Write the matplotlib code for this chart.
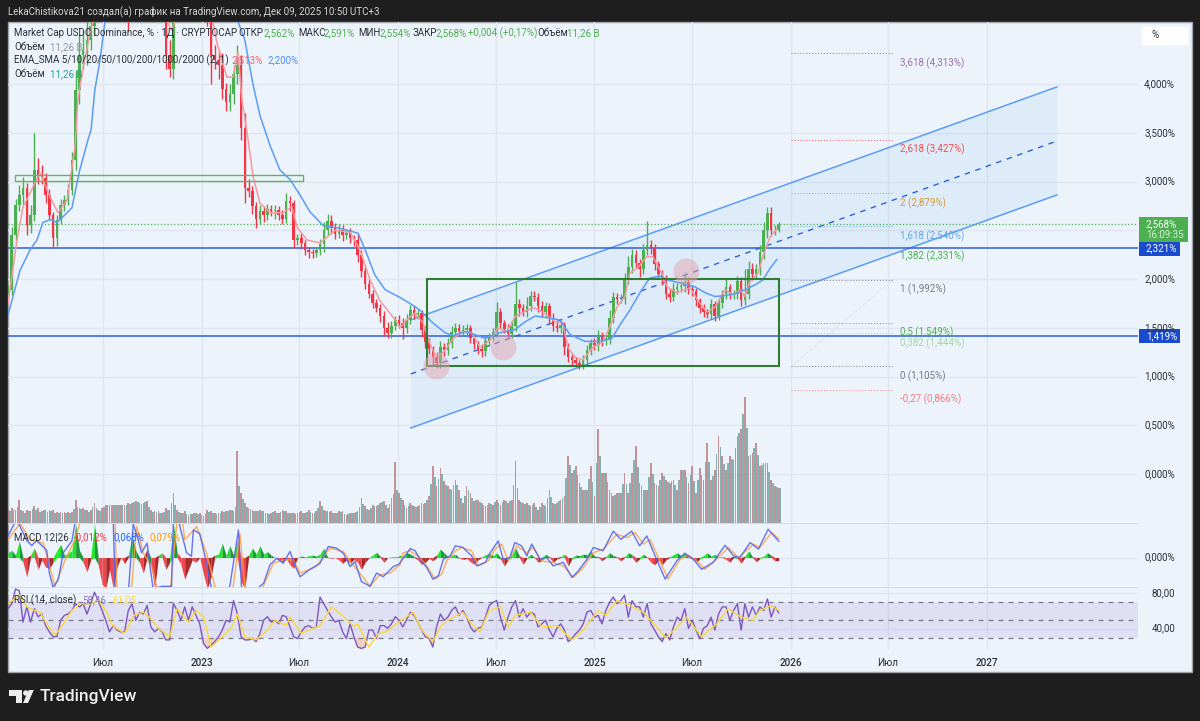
#!/usr/bin/env python3
#
# USDC dominance chart, TradingView style
#
import matplotlib
matplotlib.use('Agg')
import matplotlib.dates as mdates
import matplotlib.patches as patches
import matplotlib.pyplot as plt
import numpy as np

W, H = 1200, 721

# Weekly candles, percent of market cap (values above 4.6 leave the pane)
first_candle = '2022-01-05'
closes = [
    1.89, 2.45, 2.76, 2.86, 2.93, 2.55, 2.66, 3.12, 3.07, 3.04,
    2.86, 2.66, 2.42, 2.61, 2.76, 2.81, 2.91, 3.22, 3.94, 4.30,
    4.35, 4.45, 4.60, 5.0, 5.2, 5.6, 5.9, 6.1, 6.3, 6.0,
    5.4, 5.0, 4.9, 5.3, 5.7, 6.0, 6.2, 6.1, 5.8, 5.5,
    5.2, 5.0, 4.3, 4.15, 4.8, 5.1, 5.4, 5.6, 5.8, 5.7,
    5.5, 5.3, 5.0, 4.7, 4.3, 4.25, 4.2, 3.95, 3.82, 3.9,
    4.1, 4.2, 3.55, 2.93, 2.9, 2.75, 2.62, 2.7, 2.66, 2.72,
    2.7, 2.71, 2.66, 2.62, 2.8, 2.78, 2.4, 2.42, 2.37, 2.3,
    2.28, 2.27, 2.3, 2.36, 2.5, 2.6, 2.52, 2.46, 2.5, 2.45,
    2.47, 2.42, 2.4, 2.25, 2.08, 1.95, 1.85, 1.75, 1.7, 1.62,
    1.5, 1.45, 1.52, 1.58, 1.55, 1.5, 1.58, 1.68, 1.64, 1.65,
    1.48, 1.35, 1.28, 1.2, 1.14, 1.3, 1.27, 1.34, 1.46, 1.5,
    1.47, 1.48, 1.5, 1.4, 1.33, 1.28, 1.26, 1.36, 1.4, 1.46,
    1.66, 1.55, 1.49, 1.44, 1.52, 1.74, 1.7, 1.66, 1.72, 1.83,
    1.82, 1.72, 1.66, 1.72, 1.6, 1.52, 1.5, 1.53, 1.3, 1.2,
    1.17, 1.14, 1.12, 1.17, 1.27, 1.34, 1.32, 1.42, 1.37, 1.38,
    1.6, 1.82, 1.8, 1.8, 2.0, 2.12, 2.25, 2.16, 2.1, 2.3,
    2.35, 2.32, 2.15, 2.05, 2.0, 1.85, 1.82, 1.9, 1.92, 1.93,
    1.97, 1.9, 1.88, 1.78, 1.7, 1.66, 1.64, 1.74, 1.62, 1.75,
    1.85, 1.92, 1.84, 1.85, 1.98, 1.78, 1.85, 2.1, 2.05, 2.1,
    2.28, 2.5, 2.68, 2.5, 2.5, 2.568,
]
up_wicks = [
    .05, .08, .06, .1, .12, .05, .1, .38, .12, .1,
    .05, .06, .03, .05, .06, .05, .06, .08, .2, .2,
    .2, .2, .2, .2, .2, .2, .2, .2, .2, .2,
    .2, .2, .2, .2, .2, .2, .2, .2, .2, .2,
    .1, .1, .2, .15, .1, .1, .1, .1, .1, .1,
    .1, .1, .1, .15, .2, .1, .1, .12, .06, .1,
    .1, .2, .1, .15, .1, .05, .04, .06, .05, .05,
    .04, .05, .04, .05, .08, .05, .03, .04, .05, .03,
    .03, .03, .03, .05, .08, .07, .06, .05, .06, .05,
    .04, .05, .03, .06, .05, .04, .05, .04, .05, .04,
    .05, .06, .05, .04, .05, .05, .06, .05, .05, .04,
    .03, .04, .04, .03, .05, .06, .04, .05, .06, .05,
    .04, .05, .04, .03, .04, .03, .05, .04, .05, .04,
    .1, .04, .03, .05, .05, .23, .05, .04, .1, .05,
    .05, .04, .05, .04, .03, .05, .04, .05, .03, .04,
    .03, .03, .03, .05, .05, .04, .05, .06, .04, .05,
    .08, .05, .04, .05, .06, .12, .06, .05, .05, .06,
    .25, .05, .04, .03, .04, .04, .05, .06, .04, .05,
    .1, .05, .04, .03, .03, .04, .03, .05, .03, .04,
    .04, .08, .03, .04, .05, .04, .25, .08, .06, .05,
    .07, .08, .06, .06, .05, .02,
]
dn_wicks = [
    .04, .05, .08, .06, .1, .1, .08, .06, .1, .07,
    .08, .05, .1, .08, .05, .06, .05, .05, .1, .15,
    .15, .15, .1, .1, .1, .1, .1, .1, .1, .1,
    .1, .1, .35, .1, .1, .1, .1, .1, .1, .1,
    .1, .1, .15, .08, .1, .1, .1, .1, .1, .1,
    .1, .1, .1, .1, .3, .1, .15, .1, .1, .1,
    .1, .1, .12, .15, .06, .08, .1, .06, .08, .05,
    .05, .08, .05, .06, .05, .08, .08, .05, .06, .05,
    .06, .05, .04, .05, .08, .05, .06, .05, .04, .06,
    .04, .05, .06, .08, .06, .05, .04, .05, .04, .06,
    .08, .05, .05, .04, .05, .12, .05, .04, .05, .05,
    .07, .06, .05, .08, .05, .05, .06, .05, .05, .04,
    .05, .04, .05, .06, .05, .05, .06, .05, .05, .04,
    .05, .06, .04, .05, .05, .05, .08, .04, .05, .05,
    .05, .06, .05, .06, .05, .05, .04, .05, .08, .05,
    .05, .04, .04, .04, .05, .05, .05, .06, .06, .05,
    .05, .05, .06, .05, .06, .05, .06, .05, .08, .05,
    .05, .06, .06, .05, .06, .05, .06, .05, .05, .05,
    .06, .05, .05, .06, .05, .05, .04, .05, .05, .04,
    .05, .05, .05, .05, .05, .06, .05, .05, .06, .04,
    .06, .07, .08, .06, .05, .014,
]

# Moving averages as (candle number, value) pairs
ema_idx = [
    0, 2.4, 4, 6.6, 8.5, 11.2, 13.3, 15.7, 17.8, 18.6, 20, 21.8, 22.6, 26, 40,
    41, 43.5, 45, 50, 54, 54.5, 55.6, 58.2, 59.8, 61.2, 62.2, 63.6, 65.2, 67,
    69.7, 73.1, 75.5, 76.9, 79.5, 83, 87, 91, 93.6, 96.3, 98.9, 103, 104.3,
    106, 108.2, 110.4, 112.2, 113.6, 115.7, 118.4, 121, 123.4, 125.5, 128.2,
    130.3, 132.7, 134.8, 137, 139.6, 142.3, 145.5, 147.6, 148.9, 150.8, 152.9,
    155.6, 158.2, 160.1, 162, 164.1, 165.4, 167.6, 169.9, 171.5, 173.9, 175.3,
    177.9, 181.4, 183.5, 185.9, 188, 190.7, 192.8, 194.7, 196, 197.3, 199.5,
    200.8, 202.7, 204.5,
]
ema_vals = [
    1.75, 2.40, 2.74, 2.94, 3.09, 2.84, 2.68, 2.81, 3.35, 3.84, 4.17, 4.52, 4.64, 5.2, 5.4,
    4.75, 4.55, 4.7, 5.1, 4.8, 4.64, 4.42, 4.07, 4.07, 4.32, 3.84, 3.5, 3.05, 2.78,
    2.68, 2.68, 2.74, 2.53, 2.40, 2.37, 2.50, 2.48, 2.30, 1.99, 1.78, 1.58, 1.50,
    1.58, 1.65, 1.55, 1.34, 1.22, 1.24, 1.39, 1.46, 1.45, 1.30, 1.37,
    1.50, 1.46, 1.61, 1.66, 1.71, 1.66, 1.56, 1.55, 1.30, 1.20, 1.17,
    1.30, 1.35, 1.51, 1.71, 1.82, 2.06, 2.12, 2.23, 2.23, 2.06, 1.92,
    1.86, 1.91, 1.78, 1.66, 1.71, 1.89, 1.84, 1.89, 1.82, 1.97, 2.06,
    2.23, 2.43, 2.513,
]
sma_idx = [
    0, 3.2, 5.9, 7.7, 9.3, 11.2, 13, 15.2, 17, 19.1, 21.3, 22.1, 23.1, 24.5, 25.8,
    30, 40, 50, 58, 61.2, 63, 65.2, 67, 69.7, 72.3, 75, 77.7, 80.3, 83.8, 88.3,
    93.1, 95, 97.6, 100.3, 104.3, 106.9, 109.6, 113, 116.2, 118.4, 121.5, 124.2,
    126.9, 130.9, 134.8, 137.5, 140.2, 144.1, 146.8, 149.5, 153.5, 157.4, 160.6,
    162.8, 165.4, 168.1, 170.7, 173.4, 175.5, 178.7, 182.7, 185.4, 188, 190.7,
    193.4, 196, 198.7, 200.8, 202.7, 204.5,
]
sma_vals = [
    1.63, 2.09, 2.30, 2.40, 2.58, 2.61, 2.58, 2.66, 2.73, 3.12, 3.43, 3.53, 3.94, 4.25, 4.64,
    5.0, 5.3, 5.3, 5.0, 4.64, 4.45, 3.99, 3.68, 3.37, 3.12, 3.02, 2.86, 2.69, 2.55, 2.52,
    2.47, 2.30, 2.04, 1.89, 1.81, 1.75, 1.68, 1.55, 1.45, 1.42, 1.46, 1.43,
    1.39, 1.45, 1.48, 1.56, 1.62, 1.60, 1.58, 1.43, 1.36, 1.36, 1.39,
    1.53, 1.68, 1.86, 2.01, 2.03, 1.99, 1.96, 1.92, 1.86, 1.82, 1.83,
    1.85, 1.89, 1.94, 1.99, 2.11, 2.20,
]

# Volume overlay, billions
vol_a = [
    4.3, 4.8, 4.3, 7.5, 3.7, 4.3, 3.7, 5.4, 4.8, 3.7,
    4.3, 4.3, 4.3, 3.4, 3.4, 3.4, 3.4, 3.4, 7.5, 4.8,
    4.8, 4.3, 4.1, 6.4, 4.3, 4.8, 5.9, 5.9, 5.9, 5.9,
    5.9, 5.9, 6.4, 6.4, 7.0, 6.4, 6.4, 7.0, 4.3, 3.7,
    3.7, 3.2, 4.8, 4.3, 9.6, 4.3, 3.2, 3.7, 2.7, 3.0,
    3.2, 3.2, 2.1, 4.3, 3.7, 3.2, 3.2, 3.7, 3.7, 4.3,
    3.7, 23.0, 9.6, 6.4, 4.8, 4.3, 3.7, 4.3, 3.7, 3.2,
    3.2, 3.7, 3.2, 4.3, 3.7, 3.2, 3.2, 3.2, 3.7, 3.2,
    4.3, 3.2, 3.7, 7.0, 4.3, 3.7, 3.7, 3.2, 3.7, 3.7,
    2.7, 3.2, 3.2, 3.7, 8.0, 5.4, 4.3, 5.9, 5.4, 6.4,
    7.0, 4.8, 8.0, 19.5, 9.6, 7.5, 4.8, 6.4, 5.4, 5.4,
    6.4, 6.4, 8.6, 18.2, 11.8, 17.7, 13.4, 11.8, 10.7, 13.9,
    10.7, 6.4, 11.8, 9.6, 7.0, 7.5, 6.4, 5.4, 6.4, 5.9,
    7.5, 5.9, 7.5, 6.4, 7.5, 19.8, 7.5, 6.4, 6.4, 5.4,
    6.4, 4.3, 6.4, 5.4, 10.7, 6.4, 6.4, 7.5, 8.6, 21.4,
    16.1, 18.2, 12.8, 10.7, 10.7, 18.2, 8.6, 30.0, 16.1, 16.1,
    10.7, 8.6, 9.6, 9.6, 16.1, 9.6, 16.1, 24.6, 12.8, 10.7,
    10.7, 19.3, 12.8, 11.8, 16.1, 13.9, 12.8, 13.9, 10.7, 17.1,
    17.1, 12.8, 18.2, 9.6, 17.7, 13.9, 25.7, 13.9, 17.1, 27.8,
    21.4, 17.1, 21.4, 20.3, 27.8, 30.0, 40.4, 21.4, 22.5, 25.7,
    18.2, 19.3, 19.3, 13.9, 11.8, 11.26,
]
vol_b = [
    3.8, 4.2, 5.1, 4.0, 3.2, 3.9, 4.4, 4.2, 3.6, 4.1,
    3.6, 3.8, 3.1, 3.3, 3.3, 3.3, 3.3, 4.6, 5.2, 4.4,
    4.1, 3.6, 5.0, 4.9, 3.9, 5.2, 5.7, 5.7, 5.7, 5.7,
    5.7, 5.8, 6.2, 6.6, 6.6, 6.2, 6.7, 5.2, 3.6, 3.4,
    3.1, 3.6, 4.2, 6.3, 5.8, 3.6, 3.3, 2.9, 2.8, 3.1,
    3.0, 2.5, 2.8, 3.6, 3.3, 3.0, 3.3, 3.5, 3.9, 4.0,
    5.2, 11.8, 7.8, 5.2, 4.4, 3.8, 3.9, 3.8, 3.3, 3.0,
    3.4, 3.3, 3.6, 3.9, 3.3, 3.1, 3.0, 3.4, 3.3, 3.6,
    3.6, 3.3, 4.8, 5.4, 3.9, 3.5, 3.3, 3.3, 3.6, 3.0,
    2.9, 3.1, 3.4, 5.2, 6.2, 4.6, 4.8, 5.5, 5.7, 6.6,
    5.6, 6.0, 9.2, 10.4, 8.1, 5.8, 5.3, 5.7, 5.2, 5.8,
    6.2, 7.4, 12.6, 14.8, 14.2, 15.6, 12.2, 11.0, 12.0, 12.2,
    8.1, 8.7, 10.6, 8.0, 7.2, 6.8, 5.7, 5.8, 6.1, 6.6,
    6.5, 6.6, 6.9, 6.9, 12.3, 11.2, 6.8, 6.2, 5.8, 5.7,
    5.2, 5.2, 5.8, 8.0, 8.3, 6.2, 6.9, 7.9, 14.4, 18.5,
    17.0, 15.2, 11.6, 10.6, 14.2, 13.1, 19.1, 21.4, 16.0, 13.2,
    9.5, 9.0, 9.5, 12.6, 12.5, 12.7, 20.2, 18.0, 11.7, 10.7,
    14.8, 15.6, 12.2, 13.8, 15.0, 13.2, 13.3, 12.2, 13.8, 16.8,
    14.7, 15.3, 13.5, 13.7, 15.5, 19.4, 19.5, 15.1, 22.2, 24.2,
    19.0, 19.1, 20.6, 24.0, 28.9, 35.0, 30.5, 21.9, 24.0, 21.7,
    18.7, 19.1, 16.3, 12.7, 11.4, 11.26,
]

# MACD
macd_idx = [
    0, 2.3, 5, 6.3, 7.6, 9, 10.3, 11, 12, 13.4, 14.7, 17, 18, 21, 24.5, 28, 28.5,
    29, 32, 33.3, 34.7, 35.5, 37, 37.8, 38.6, 41, 43.5, 44, 45, 45.7, 47.5, 48.8,
    49.3, 51, 52.4, 54, 56.4, 59, 61.3, 62.1, 64.4, 67, 68, 69.7, 71.5, 73.2, 75,
    76.8, 77.7, 80.3, 83, 85.2, 87.4, 89.2, 91, 92.3, 94, 96.3, 98, 99.8, 102.5, 104,
    107, 108.3, 109.6, 111.4, 113, 114.5, 115.8, 117.6, 119, 121, 123.3, 124.7, 127,
    128, 130.4, 131.7, 133.5, 134.8, 136.6, 138, 139.3, 141.5, 143.3, 145, 147.7,
    150, 151.7, 154, 155.7, 158.3, 161, 163, 165.9, 168, 169.9, 172.5, 174.8, 177.9,
    180, 182.3, 184.5, 187.6, 190.7, 193, 194.7, 197.4, 199.6, 202.2, 205,
]
macd_vals = [
    .09, .16, .07, .05, .07, .05, .03, -.065, -.125, -.09, .02, .07, .16, .25, .28, .15, -.13,
    -.13, -.15, .14, .07, .02, .06, -.04, -.13, -.12, -.12, .16, .25, .13, .02, .005,
    .115, .10, .005, -.12, -.2, -.12, .115, -.12, -.2, -.12, -.107, -.03, -.003, -.024, .025,
    -.05, -.08, -.05, -.024, .046, .039, .018, -.0375, -.017, -.1, -.12, -.065, -.08, -.0375, -.028,
    .0375, .028, -.007, -.042, -.09, -.076, -.007, .007, .049, .042, .007, -.035, -.02,
    .014, .069, -.007, 0, .0625, .049, .007, .056, -.007, 0, -.035, -.02,
    -.083, -.056, -.007, .042, .028, .11, .076, .11, .049, .09, -.007, -.09, -.014,
    .018, -.007, -.049, -.02, .051, .007, 0, .0625, .035, .118, .068,
]
signal_idx = [
    0, 3.2, 5.9, 9.4, 12.5, 15.2, 17.8, 19.1, 22, 26, 28.5, 28.9, 32, 32.9, 34.2, 36,
    38.2, 39.5, 43, 44.9, 46, 47, 50.2, 52.8, 55, 58, 59.9, 61.7, 63, 65, 67.9, 70.6,
    73.2, 75.9, 77.7, 82, 85.6, 89.2, 91.4, 93.6, 96.3, 98.9, 101.6, 104.3,
    105.1, 106.9, 109.6, 111.4, 113.6, 115.3, 116.7, 119, 120.7, 123.3, 125.1, 127.8,
    129.5, 131.3, 133.1, 135.3, 138, 139.7, 141.9, 144.6, 147.7, 150.4, 153, 155.7,
    158.3, 162, 164.6, 166.8, 169, 170.8, 173.4, 175.6, 178.8, 181, 183.6, 185.4,
    188.5, 191.6, 194.3, 198.3, 200, 203.1, 205,
]
signal_vals = [
    .074, .143, .074, .06, -.12, -.01, .074, .143, .24, .26, .143, -.12, -.18, -.12, .13, .018,
    -.0375, -.12, -.16, .143, .2, .074, .129, .018, -.12, -.2, -.12, .1, -.12, -.2, -.12, -.024,
    -.01, -.01, -.065, -.0375, .039, .025, -.024, -.065, -.12, -.072, -.065, -.03,
    .02, .028, 0, -.035, -.09, -.07, -.014, .028, .042, .028, -.035, -.014,
    .035, .056, -.014, .049, .02, .042, -.014, -.02, -.035, -.083, -.042, .02,
    .035, .097, .083, .104, .056, .076, -.014, -.09, -.007, .01, -.02, -.049,
    -.007, .042, 0, .056, .042, .104, .079,
]
hist_vals = [
    .02, .03, .01, .07, -.02, -.08, .01, .04, -.05, -.01,
    -.04, -.045, -.02, .03, .055, .01, .018, .03, .14, .03,
    -.02, -.06, -.01, .14, -.03, -.11, -.13, -.05, -.13, -.04,
    0, -.025, .01, .09, .03, -.02, -.065, .035, -.03, -.13,
    .01, .02, -.05, -.02, .14, .02, -.03, -.09, -.05, -.01,
    -.02, 0, -.07, -.13, -.08, .01, .015, .06, .01, .05,
    .01, .07, -.1, -.13, .01, .04, .015, .05, .015, .025,
    .01, 0, -.01, -.018, -.005, -.03, -.045, 0, .007, .002,
    .008, .01, .006, .015, .04, .002, -.003, 0, -.01, -.024,
    -.01, -.024, -.008, -.02, -.05, -.02, -.002, .01, .022, .005,
    -.02, 0, .003, .004, .005, .005, .02, .015, .005, -.01,
    -.028, -.02, -.004, -.014, .01, .035, .02, .005, .01, .014,
    -.002, -.008, -.004, -.018, -.028, -.01, .002, .012, .017, .008,
    .02, -.006, -.035, -.01, .01, .04, .008, -.028, -.004, .014,
    .002, -.02, -.012, .014, .003, -.02, -.006, .004, .014, -.035,
    -.006, .01, .008, .014, .012, .028, .006, .004, -.014, .004,
    .02, .008, .003, -.014, .003, .02, .012, -.02, -.006, .014,
    .002, -.02, -.03, -.012, -.03, -.01, .003, .012, .02, .008,
    .02, .002, -.006, -.02, -.006, .008, .02, .006, .014, .002,
    .004, -.008, -.02, .006, -.004, -.024, .006, .028, .004, -.018,
    -.004, .006, .02, .01, -.014, -.012,
]

# RSI
rsi_vals = [
    63, 68.5, 85, 83, 48, 65, 48, 63, 54, 57,
    44, 37, 31.5, 31.5, 50, 55.5, 57, 61, 68.5, 65,
    68.5, 57, 68.5, 81.5, 72, 61, 50, 37, 44, 39,
    37, 37, 61, 68.5, 50, 59, 57, 66.5, 42.5, 37,
    41, 37, 28, 28, 68.5, 61, 50, 65, 50, 65,
    55.5, 46, 24, 18.5, 22, 26, 31.5, 39, 50, 48,
    72, 57, 31.5, 28, 28, 29.5, 26, 35, 50, 54,
    48, 50, 46, 55.5, 54, 42.5, 31.5, 29.5, 37, 42.5,
    44, 41, 42.5, 76, 68.5, 61, 54, 48, 50, 37,
    29.5, 46, 31.5, 20, 18.5, 20, 39, 39, 29.5, 44,
    44, 41, 46, 54, 50, 42.5, 50, 59, 55.5, 48,
    39, 31.5, 29.5, 20, 42.5, 57, 50, 53.5, 61, 65,
    55.5, 61, 53.5, 42.5, 37, 41, 42.5, 53.5, 66.5, 70,
    72, 53.5, 39, 53.5, 65, 72, 53.5, 63, 53.5, 59,
    57, 42.5, 46, 50, 39, 31.5, 41, 46, 39, 26,
    29.5, 35, 39, 46, 59, 61, 53.5, 55.5, 46, 61,
    70, 76, 68.5, 72, 78, 53.5, 72, 65, 65, 53.5,
    68.5, 46, 39, 31.5, 26, 35, 28, 42.5, 53.5, 50,
    63, 41, 50, 39, 29.5, 41, 44, 53.5, 39, 57,
    65, 65, 50, 61, 68.5, 39, 68.5, 53.5, 65, 55.5,
    65, 61, 74, 53.5, 65, 58.46,
]
rsi_ma_idx = [
    0, 3, 5, 7, 8.5, 10, 12.5, 15, 17, 19, 22, 24, 26, 28, 31, 33.5, 36, 38, 40, 43, 45,
    48, 50, 52, 54, 57, 59.5, 61, 63, 66, 69, 71, 74, 75, 78, 83, 86, 88.5, 92, 93, 96,
    98.5, 100.5, 104, 107.8, 110, 113, 115, 117, 121, 123.3, 125.5, 128, 131, 133, 135,
    139, 142, 146, 150, 153, 157, 159, 162, 165.5, 169, 172.5, 175, 180.5, 184.5, 188.5,
    191.5, 195, 198, 200, 203, 205,
]
rsi_ma_vals = [
    68.5, 78, 65, 61, 59, 48, 33, 48, 61, 68.5, 68.5, 72, 61, 43, 35.5, 55.5, 59, 52, 41, 31.5, 63,
    48, 61, 54, 20, 31.5, 42.5, 57, 31.5, 28, 39, 50, 44, 54, 35.5, 44, 65, 57, 43, 46, 20,
    35, 37, 48, 59, 39, 26, 42.5, 50, 59, 46, 37, 61, 65, 42.5, 55.5,
    59, 42.5, 44, 28, 39, 61, 55.5, 72, 66.5, 59, 42.5, 30, 53.5, 31.5, 46,
    63, 53.5, 50, 61, 66.5, 61.05,
]

# Drawings
hlines_blue = [2.321, 1.419]
last_price = 2.568
channel_start = '2024-01-25'
channel_end = '2027-05-12'
channel_upper = [1.58, 3.97]
channel_mid = [1.026, 3.415]
channel_lower = [0.472, 2.862]
box_start, box_end = '2024-02-24', '2025-12-10'
box_low, box_high = 1.108, 2.0
zone_start, zone_end = '2022-01-18', '2023-07-08'
zone_low, zone_high = 3.01, 3.07
circle_dates = ['2024-03-12', '2024-07-14', '2025-06-21']
circle_vals = [1.108, 1.30, 2.08]

fib_start, fib_end = '2026-01-02', '2026-07-11'
fib_vals = [4.313, 3.427, 2.879, 2.540, 2.331, 1.992, 1.549, 1.444, 1.105, 0.866]
fib_labels = ['3,618 (4,313%)', '2,618 (3,427%)', '2 (2,879%)', '1,618 (2,540%)',
              '1,382 (2,331%)', '1 (1,992%)', '0,5 (1,549%)', '0,382 (1,444%)',
              '0 (1,105%)', '-0,27 (0,866%)']
fib_colors = ['#9c6fa8', '#f0504f', '#d59a3c', '#64a6e0', '#4caf50', '#787b86',
              '#4caf50', '#a5d6a7', '#787b86', '#f77c80']

# Axis labels
price_ticks = [4, 3.5, 3, 2, 1.5, 1, 0.5, 0]
price_labels = ['4,000%', '3,500%', '3,000%', '2,000%', '1,500%', '1,000%', '0,500%', '0,000%']
time_ticks = ['2022-07-01', '2023-01-01', '2023-07-01', '2024-01-01', '2024-07-01',
              '2025-01-01', '2025-07-01', '2026-01-01', '2026-07-01', '2027-01-01']
time_labels = ['Июл', '2023', 'Июл', '2024', 'Июл', '2025', 'Июл', '2026', 'Июл', '2027']

plt.rcParams['font.family'] = ['Roboto', 'Noto Sans', 'DejaVu Sans']

DARK = '#1e1e1e'
PANE = '#edf3fb'
GRID = '#dfe6ef'
TEXT = '#2a2e39'
GREEN = '#4caf50'
RED = '#f23645'
BLUE = '#5b9cf6'
ROYAL = '#2e5fd8'

fig = plt.figure(figsize=(W / 100, H / 100), dpi=100, facecolor=DARK)


def pane(top, bottom, left=8, right=1138):
    ax = fig.add_axes([left / W, 1 - bottom / H, (right - left) / W, (bottom - top) / H])
    ax.set_facecolor('none')
    for s in ax.spines.values():
        s.set_visible(False)
    ax.tick_params(left=False, bottom=False, labelleft=False, labelbottom=False)
    ax.set_axisbelow(True)
    return ax


def label(x, y, s, color=TEXT, size=7.0, **kw):
    kw.setdefault('va', 'center')
    return fig.text(x / W, 1 - y / H, s, color=color, fontsize=size, zorder=6, **kw)


def box(x0, y0, x1, y1, color, **kw):
    r = patches.Rectangle((x0 / W, 1 - y1 / H), (x1 - x0) / W, (y1 - y0) / H,
                          transform=fig.transFigure, facecolor=color, **kw)
    fig.add_artist(r)
    return r


box(8, 22, 1192, 672, PANE, edgecolor='#a0a4ab', lw=1, zorder=-2)

ax = pane(22, 523)
ax_vol = ax.twinx()
ax.tick_params(left=False, labelleft=False)
ax_vol.set_facecolor('none')
for s in ax_vol.spines.values():
    s.set_visible(False)
ax_vol.tick_params(right=False, labelright=False)
ax_macd = pane(523, 587.5)
ax_rsi = pane(587.5, 650)

# Shared time axis
t0 = mdates.datestr2num(first_candle)
n = len(closes)
t = t0 + 7 * np.arange(n)
tick_nums = mdates.datestr2num(time_ticks)
xlim = mdates.datestr2num(['2022-01-05', '2027-10-10'])
for a in (ax, ax_macd, ax_rsi):
    a.set_xlim(*xlim)
    a.set_xticks(tick_nums)
    a.grid(True, axis='x', color=GRID, lw=1)
ax_vol.set_xlim(*xlim)


def at(idx):
    return t0 + 7 * np.asarray(idx, dtype=float)


# Price pane
ax.set_ylim(-0.5026, 4.636)
ax.set_yticks(np.arange(0, 4.5, 0.5))
ax.grid(True, axis='y', color=GRID, lw=1)
ax_vol.set_ylim(0, 160.3)

ax_vol.bar(t, vol_a, width=3.1, color='#b2696e', alpha=0.7, lw=0)
ax_vol.bar(t + 3.5, vol_b, width=3.1, color='#5f9c9a', alpha=0.75, lw=0)

cx = mdates.datestr2num([channel_start, channel_end])
ax.fill_between(cx, channel_lower, channel_upper, color='#2196f3', alpha=0.07, lw=0, zorder=1)
ax.plot(cx, channel_upper, color=BLUE, lw=1.1, zorder=2)
ax.plot(cx, channel_lower, color=BLUE, lw=1.1, zorder=2)
ax.plot(cx, channel_mid, color=ROYAL, lw=1, ls=(0, (4, 4)), zorder=2)

ax.axhline(last_price, color=GREEN, lw=0.9, ls=':', zorder=2)
for v in hlines_blue:
    ax.axhline(v, color=ROYAL, lw=1.1, zorder=2)

# Fibonacci levels
fx = mdates.datestr2num([fib_start, fib_end])
ax.plot(fx, [fib_vals[8], fib_vals[5]], color='#dfe5ec', lw=0.8, ls='--', zorder=1)
for v, s, c in zip(fib_vals, fib_labels, fib_colors):
    ax.plot(fx, [v, v], color=c, lw=0.8, ls=':', alpha=0.8, zorder=2)
    ax.annotate(s, (fx[1], v), xytext=(7, -4), textcoords='offset pixels', color=c,
                fontsize=7.0, va='top', ha='left', zorder=3)

# Candles
closes_a = np.array(closes)
opens = np.r_[closes_a[0], closes_a[:-1]]
tops = np.maximum(opens, closes_a)
bottoms = np.minimum(opens, closes_a)
colors = np.where(closes_a >= opens, GREEN, RED)
ax.vlines(t, bottoms - np.array(dn_wicks), tops + np.array(up_wicks), colors=colors, lw=1, zorder=4)
ax.bar(t, tops - bottoms, bottom=bottoms, width=4.8, color=colors, lw=0, zorder=4)

ax.plot(at(ema_idx), ema_vals, color='#f59aa0', lw=1.1, zorder=5)
ax.plot(at(sma_idx), sma_vals, color=BLUE, lw=1.1, zorder=5)

zone_x = mdates.datestr2num([zone_start, zone_end])
ax.add_patch(patches.Rectangle((zone_x[0], zone_low), zone_x[1] - zone_x[0], zone_high - zone_low,
                               fill=False, edgecolor='#5cb860', lw=1, zorder=6))
box_x = mdates.datestr2num([box_start, box_end])
ax.add_patch(patches.Rectangle((box_x[0], box_low), box_x[1] - box_x[0], box_high - box_low,
                               fill=False, edgecolor='#2e7d32', lw=1.5, zorder=6))
ax.scatter(mdates.datestr2num(circle_dates), circle_vals, s=350, color='#e3a3b0', alpha=0.5, lw=0, zorder=7)

# MACD pane
ax_macd.set_ylim(-0.125, 0.144)
ax_macd.set_yticks([0])
ax_macd.grid(True, axis='y', color=GRID, lw=1)
h = np.array(hist_vals)
for i in range(len(h) - 1):
    x2 = t[i:i + 2]
    y2 = h[i:i + 2]
    up = abs(y2[1]) >= abs(y2[0])
    if y2.mean() >= 0:
        col = '#22e52c' if up else '#1f9a3a'
    else:
        col = '#f0474f' if up else '#a82a2a'
    ax_macd.fill_between(x2, 0, np.maximum(y2, 0), color=col, lw=0, zorder=2)
    ax_macd.fill_between(x2, 0, np.minimum(y2, 0), color=col, lw=0, zorder=2)
ax_macd.plot(at(signal_idx), signal_vals, color='#ff9f40', lw=1, alpha=0.85, zorder=3)
ax_macd.plot(at(macd_idx), macd_vals, color='#5566ee', lw=1, alpha=0.9, zorder=4)

# RSI pane
ax_rsi.set_ylim(16.7, 86.7)
ax_rsi.set_yticks([80, 40])
ax_rsi.grid(True, axis='y', color=GRID, lw=1)
ax_rsi.axhspan(30, 70, color='#7e57c2', alpha=0.12, lw=0)
for v in (70, 50, 30):
    ax_rsi.axhline(v, color='#787b86', lw=0.9, ls=(0, (4, 4)))
rsi_a = np.array(rsi_vals, dtype=float)
rsi_t = at(np.arange(len(rsi_a)))
ax_rsi.fill_between(rsi_t, rsi_a, 30, where=rsi_a < 30, interpolate=True, color='#f4a070', alpha=0.4, lw=0)
ax_rsi.plot(rsi_t, rsi_a, color='#7e57c2', lw=1, zorder=3)
ax_rsi.plot(at(rsi_ma_idx), rsi_ma_vals, color='#fdd835', lw=1, zorder=4)
ax_rsi.set_xticklabels(time_labels)
ax_rsi.tick_params(labelbottom=True, pad=2.5, labelsize=7.2, labelcolor=TEXT)
for lab, s in zip(ax_rsi.get_xticklabels(), time_labels):
    if s != 'Июл':
        lab.set_fontweight('medium')

# Pane separators
for y in (523, 587.5):
    box(8, y - 0.5, 1138, y + 0.5, '#d4dbe4', zorder=1)

# Price scale
for v, s in zip(price_ticks, price_labels):
    y = 474 - 97.5 * v
    label(1175, y, s, ha='right')
label(1175, 557, '0,000%', ha='right')
label(1175, 593, '80,00', ha='right')
label(1175, 628, '40,00', ha='right')

box(1139, 217, 1188, 242, GREEN, zorder=4)
label(1146, 224, '2,568%', color='white')
label(1146, 235, '16:09:35', color='#d8eeda')
box(1139, 242, 1180, 256, '#1a4bcc', zorder=4)
label(1146, 248.5, '2,321%', color='white')
box(1139, 329, 1180, 343, '#1a4bcc', zorder=4)
label(1146, 336, '1,419%', color='white')
fig.add_artist(patches.FancyBboxPatch((1144 / W, 1 - 44 / H), 42 / W, 16 / H,
                                      boxstyle='round,pad=0.002', transform=fig.transFigure,
                                      facecolor='white', edgecolor='none', zorder=4))
label(1152, 35.5, '%')

# Legend lines
label(8, 12, 'LekaChistikova21 создал(а) график на TradingView.com, Дек 09, 2025 10:50 UTC+3', color='#d6d6d6')
label(14, 33, 'Market Cap USDC Dominance, % · 1Д · CRYPTOCAP')
for x, s, c in [(238, 'ОТКР', TEXT), (263, '2,562%', GREEN), (298, 'МАКС', TEXT), (323, '2,591%', GREEN),
                (358, 'МИН', TEXT), (379, '2,554%', GREEN), (413, 'ЗАКР', TEXT), (436, '2,568%', GREEN),
                (468, '+0,004 (+0,17%)', GREEN), (537, 'Объём', TEXT), (567, '11,26 B', GREEN)]:
    label(x, 33, s, color=c)
label(14, 47, 'Объём')
label(50, 47, '11,26 B', color='#9598a1')
label(14, 60, 'EMA_SMA 5/10/20/50/100/200/1000/2000 (2, 1)')
label(232, 60, '2,513%', color='#f0636b')
label(268, 60, '2,200%', color='#4d8ff5')
label(14, 74, 'Объём')
label(50, 74, '11,26 B', color='#26a69a')
label(14, 537, 'MACD 12|26')
label(74, 537, '-0,012%', color=RED)
label(113, 537, '0,068%', color='#2962ff')
label(149, 537, '0,079%', color='#ff9800')
label(14, 600, 'RSI (14, close)')
label(82, 600, '58,46', color='#8e6fc9')
label(112, 600, '61,05', color='#fdd835')

# TradingView mark
mark = '#ececec'
ax_logo = fig.add_axes([0, 0, 1, 1], zorder=5)
ax_logo.set_xlim(0, W)
ax_logo.set_ylim(H, 0)
ax_logo.axis('off')
ax_logo.add_patch(patches.Polygon([(9, 690), (22, 690), (22, 703), (15.5, 703), (15.5, 696), (9, 696)],
                                  facecolor=mark, edgecolor='none'))
ax_logo.add_patch(patches.Circle((25.8, 693), 2.7, facecolor=mark, edgecolor='none'))
ax_logo.add_patch(patches.Polygon([(23, 703), (28.8, 690), (33.8, 690), (28, 703)], facecolor=mark, edgecolor='none'))
label(40, 697, 'TradingView', color='#f0f0f0', size=12.5, fontweight='medium')

fig.savefig('out.png', dpi=100, facecolor=DARK)
